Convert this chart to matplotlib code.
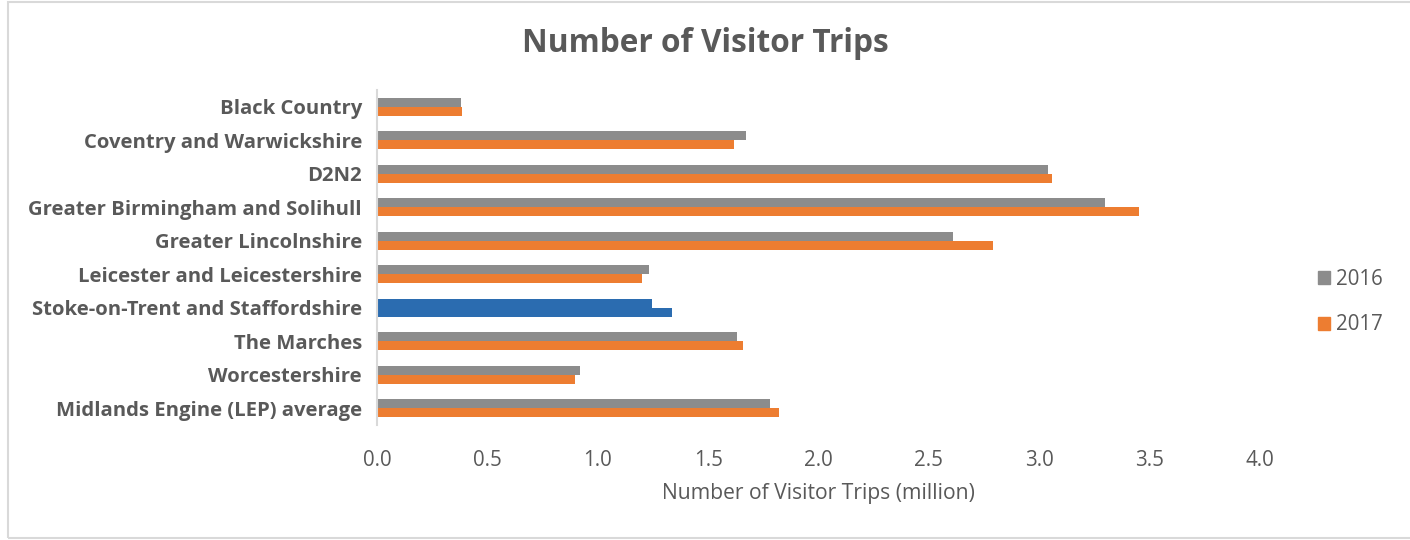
import matplotlib

matplotlib.use("Agg")
import matplotlib.pyplot as plt
import numpy as np
from matplotlib.patches import Rectangle

regions = [
    "Black Country",
    "Coventry and Warwickshire",
    "D2N2",
    "Greater Birmingham and Solihull",
    "Greater Lincolnshire",
    "Leicester and Leicestershire",
    "Stoke-on-Trent and Staffordshire",
    "The Marches",
    "Worcestershire",
    "Midlands Engine (LEP) average",
]
trips_2016 = [0.38, 1.67, 3.04, 3.30, 2.61, 1.23, 1.245, 1.63, 0.92, 1.78]
trips_2017 = [0.385, 1.615, 3.06, 3.45, 2.79, 1.20, 1.335, 1.66, 0.895, 1.82]
highlight = "Stoke-on-Trent and Staffordshire"
years = ["2016", "2017"]
x_ticks = [0.0, 0.5, 1.0, 1.5, 2.0, 2.5, 3.0, 3.5, 4.0]

GREY = "#8c8c8c"
ORANGE = "#ed7d31"
BLUE = "#2b6cb0"
TEXT = "#595959"

plt.rcParams["font.family"] = ["Open Sans", "DejaVu Sans"]

fig = plt.figure(figsize=(14.1, 5.4), dpi=100)
ax = fig.add_axes([377 / 1410, 115 / 540, 883 / 1410, 335 / 540])

# light frame round the chart area
fig.patches.append(Rectangle((8 / 1410, 2 / 540), 1.2, 536 / 540, transform=fig.transFigure,
                             fill=False, edgecolor="#d9d9d9", linewidth=1.5))

y = np.arange(len(regions))
h = 0.27
c16 = [BLUE if r == highlight else GREY for r in regions]
c17 = [BLUE if r == highlight else ORANGE for r in regions]
ax.barh(y - h / 2, trips_2016, height=h, color=c16, label=years[0])
ax.barh(y + h / 2, trips_2017, height=h, color=c17, label=years[1])

ax.set_ylim(len(regions) - 0.5, -0.5)
ax.set_xlim(0, 4.0)
ax.set_xticks(x_ticks)
ax.set_xticklabels([f"{t:.1f}" for t in x_ticks], fontsize=14.8, color=TEXT)
ax.set_yticks(y)
ax.set_yticklabels(regions, fontsize=14.6, fontweight="bold", color=TEXT)
ax.tick_params(axis="x", length=0, pad=18)
ax.tick_params(axis="y", length=0, pad=10.8)

for s in ["top", "right", "bottom"]:
    ax.spines[s].set_visible(False)
ax.spines["left"].set_color("#d9d9d9")
ax.spines["left"].set_linewidth(1.5)

ax.set_xlabel("Number of Visitor Trips (million)", fontsize=15.2, color=TEXT, labelpad=9)
fig.text(0.5, 0.92, "Number of Visitor Trips", ha="center", va="center",
         fontsize=22.8, fontweight="bold", color=TEXT)

handles = [Rectangle((0, 0), 1, 1, color=GREY), Rectangle((0, 0), 1, 1, color=ORANGE)]
fig.legend(handles, years, loc="center left", bbox_to_anchor=(1299 / 1410, 238 / 540),
           frameon=False, fontsize=14.8, handlelength=0.6, handleheight=0.6,
           handletextpad=0.3, labelspacing=1.2, labelcolor=TEXT)

fig.savefig("out.png", dpi=100)
plt.close(fig)
